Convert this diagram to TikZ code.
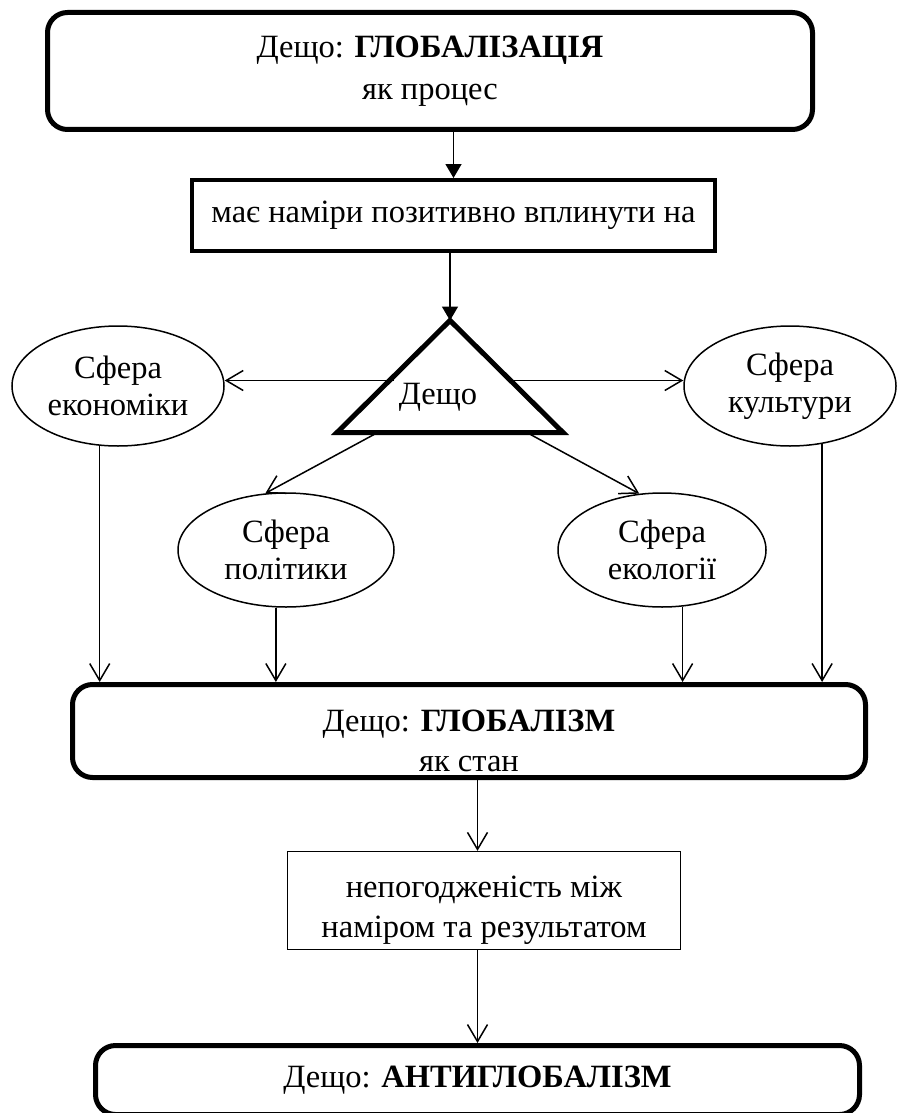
\documentclass[tikz,border=0pt]{standalone}
\usepackage{fontspec}
\setmainfont{Liberation Serif}
\usetikzlibrary{shapes.geometric,arrows.meta,calc}

\tikzset{
  bigbox/.style={rectangle, rounded corners=20pt, draw, line width=5pt, align=center, inner sep=0pt},
  aimbox/.style={rectangle, draw, line width=4pt, inner sep=0pt},
  gapbox/.style={rectangle, draw, line width=1.3pt, align=center, inner sep=0pt},
  sphere/.style={ellipse, draw, line width=1.5pt, align=center, inner sep=0pt, minimum width=212pt, minimum height=120pt,
                 font=\fontsize{32.5}{37}\selectfont},
  trinode/.style={isosceles triangle, isosceles triangle stretches, shape border rotate=90, draw, line width=5pt, inner sep=0pt, outer sep=0pt},
  fwd/.style={-{Triangle[length=14pt,width=16pt]}, line width=1.5pt},
  opn/.style={-{Straight Barb[length=17pt,width=20pt]}, line width=1.5pt},
}
\newcommand{\lowr}{\rule{0pt}{41pt}}

\begin{document}
\begin{tikzpicture}[x=1pt, y=-1pt, font=\fontsize{32.5}{40}\selectfont]
    \useasboundingbox (0,0) rectangle (899,1113);

    \node[bigbox, minimum width=765pt, minimum height=117pt] (proc) at (430,71) {Дещо: \textbf{ГЛОБАЛІЗАЦІЯ}\\[2pt]як процес};
    \node[aimbox, minimum width=523pt, minimum height=71pt, below of=proc, node distance=144.5pt, xshift=23.5pt] (aim) {має наміри позитивно вплинути на};
    \node[trinode, minimum width=226pt, minimum height=112pt, below of=aim, node distance=170.5pt, xshift=-3.5pt,
          label={[xshift=-12pt, yshift=-11pt]center:Дещо}] (tri) {};

    \node[sphere, left of=tri, node distance=332pt] (eco) {Сфера\\економіки};
    \node[sphere, right of=tri, node distance=340pt] (cul) {Сфера\\культури};
    \node[sphere, minimum width=216pt, minimum height=114pt, below of=tri, node distance=164pt, xshift=-164pt] (pol) {Сфера\\політики};
    \node[sphere, minimum width=208pt, minimum height=114pt, below of=tri, node distance=164pt, xshift=212pt] (ecol) {Сфера\\екології};

    \node[bigbox, minimum width=793pt, minimum height=93pt, below of=tri, node distance=345pt, xshift=19pt] (glob) {\lowr Дещо: \textbf{ГЛОБАЛІЗМ}\\як стан};
    \node[gapbox, minimum width=393pt, minimum height=98pt, below of=glob, node distance=169.5pt, xshift=15pt] (gap) {\lowr непогодженість між\\наміром та результатом};
    \node[bigbox, minimum width=764pt, minimum height=69pt, below of=gap, node distance=179.5pt, xshift=-6.5pt] (anti) {Дещо: \textbf{АНТИГЛОБАЛІЗМ}};

    \coordinate (lside) at ([yshift=-4pt]tri.left side);
    \coordinate (rside) at ([yshift=-4pt]tri.right side);

    \draw[fwd] (proc.south -| aim.north) -- (aim.north);
    \draw[fwd] (aim.south -| tri.apex) -- (tri.apex);

    \draw[opn] (lside) -- (eco.east |- lside);
    \draw[opn] (rside) -- (cul.west |- rside);
    \draw[opn] ($(tri.left corner)!0.18!(tri.right corner)$) -- (pol.110);
    \draw[opn] ($(tri.left corner)!0.84!(tri.right corner)$) -- (ecol.112);

    \draw[opn] (eco.253) -- (eco.253 |- glob.north);
    \draw[opn] (pol.260) -- (pol.260 |- glob.north);
    \draw[opn] (ecol.290) -- (ecol.290 |- glob.north);
    \draw[opn] (cul.299) -- (cul.299 |- glob.north);

    \draw[opn] (glob.south -| anti) -- (gap.north -| anti);
    \draw[opn] (gap.south -| anti) -- (anti.north);
\end{tikzpicture}
\end{document}
